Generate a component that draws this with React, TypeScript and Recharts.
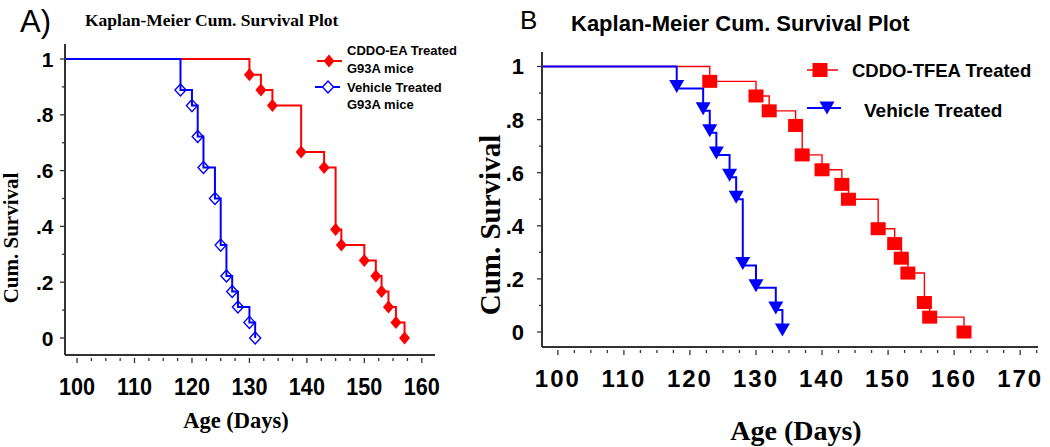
import { LineChart, Line, XAxis, YAxis } from "recharts";

// Panel A: CDDO-EA vs vehicle treated G93A mice (age in days, cum. survival)
const eaDays = [130, 132, 134, 139, 143, 145, 146, 150, 152, 153, 154.2, 155.5, 157];
const eaSurvival = [0.944, 0.889, 0.833, 0.667, 0.611, 0.389, 0.333, 0.278, 0.222, 0.167, 0.111, 0.056, 0];
const vehADays = [118, 120, 121, 122, 124, 125, 126, 127, 128, 130, 131];
const vehASurvival = [0.889, 0.833, 0.722, 0.611, 0.5, 0.333, 0.222, 0.167, 0.111, 0.056, 0];

// Panel B: CDDO-TFEA vs vehicle treated
const tfeaDays = [123, 130, 132, 136, 137, 140, 143, 144, 148.5, 151, 152, 153, 155.5, 156.3, 161.5];
const tfeaSurvival = [0.944, 0.889, 0.833, 0.778, 0.667, 0.611, 0.556, 0.5, 0.389, 0.333, 0.278, 0.222, 0.111, 0.056, 0];
const vehBDays = [118, 122, 123, 124, 126, 127, 128, 130, 133, 134];
const vehBSurvival = [0.917, 0.833, 0.75, 0.667, 0.583, 0.5, 0.25, 0.167, 0.083, 0];

// axis ticks
const xTicksA = [100, 102.5, 105, 107.5, 110, 112.5, 115, 117.5, 120, 122.5, 125, 127.5, 130, 132.5, 135, 137.5, 140, 142.5, 145, 147.5, 150, 152.5, 155, 157.5, 160];
const xTicksB = [...xTicksA, 162.5, 165, 167.5, 170, 172.5];
const xMajor = [100, 110, 120, 130, 140, 150, 160, 170];
const yTicks = [0, 0.1, 0.2, 0.3, 0.4, 0.5, 0.6, 0.7, 0.8, 0.9, 1];
const yMajor = [0, 0.2, 0.4, 0.6, 0.8, 1];
const yLabels = ["0", ".2", ".4", ".6", ".8", "1"];

const START_AGE = 0;
const RED = "#ff0000";
const BLUE = "#0000ff";
const AXIS = "#333333";
const SANS = "'Liberation Sans', Arial, sans-serif";
const SERIF = "'Liberation Serif', 'Times New Roman', serif";

function kmPoints(days: number[], surv: number[]) {
  return [{ age: START_AGE, s: 1, mark: false }, ...days.map((d, i) => ({ age: d, s: surv[i], mark: true }))];
}

const near = (a: number, b: number) => Math.abs(a - b) < 1e-6;

const diamond = (cx: number, cy: number, w: number, h: number) =>
  `${cx},${cy - h} ${cx + w},${cy} ${cx},${cy + h} ${cx - w},${cy}`;
const triangle = (cx: number, cy: number) =>
  `${cx - 7.5},${cy - 8.5} ${cx + 7.5},${cy - 8.5} ${cx},${cy + 4.5}`;

function redDiamond(p: any) {
  if (!p.payload || !p.payload.mark) return <g key={`rd${p.index}`} />;
  return <polygon key={`rd${p.index}`} points={diamond(p.cx, p.cy, 5.5, 6.5)} fill={RED} />;
}
function blueDiamond(p: any) {
  if (!p.payload || !p.payload.mark) return <g key={`bd${p.index}`} />;
  return <polygon key={`bd${p.index}`} points={diamond(p.cx, p.cy, 5.5, 6)} fill="none" stroke={BLUE} strokeWidth={1.4} />;
}
function redSquare(p: any) {
  if (!p.payload || !p.payload.mark) return <g key={`rs${p.index}`} />;
  return <rect key={`rs${p.index}`} x={p.cx - 7.5} y={p.cy - 6.5} width={15} height={13} fill={RED} />;
}
function blueTriangle(p: any) {
  if (!p.payload || !p.payload.mark) return <g key={`bt${p.index}`} />;
  return <polygon key={`bt${p.index}`} points={triangle(p.cx, p.cy)} fill={BLUE} />;
}

function YTick(props: any) {
  const { x, y, payload, gap, size, shift } = props;
  const idx = yMajor.findIndex((m) => near(m, payload.value));
  const major = idx >= 0;
  return (
    <g>
      <line x1={x - (major ? 5 : 3)} x2={x} y1={y} y2={y} stroke={AXIS} strokeWidth={1.3} />
      {major && (
        <text x={x - gap} y={y + shift} textAnchor="end" fontFamily={SANS} fontWeight="bold" fontSize={size} fill="#000">
          {yLabels[idx]}
        </text>
      )}
    </g>
  );
}

function XTick(props: any) {
  const { x, y, payload, size, sx, spacing } = props;
  const major = xMajor.some((m) => near(m, payload.value));
  return (
    <g>
      <line x1={x} x2={x} y1={y + 3} y2={y + (major ? 8 : 6)} stroke={AXIS} strokeWidth={1.3} />
      {major && (
        <text
          transform={`translate(${x},${y + 40}) scale(${sx},1)`}
          textAnchor="middle"
          fontFamily={SANS}
          fontWeight="bold"
          fontSize={size}
          letterSpacing={spacing}
          fill="#000"
        >
          {payload.value}
        </text>
      )}
    </g>
  );
}

export default function App() {
  return (
    <div style={{ position: "absolute", left: 0, top: 0, width: 1050, height: 447, background: "#fff" }}>
      <div style={{ position: "absolute", left: 0, top: 0 }}>
        <LineChart width={520} height={447} margin={{ top: 44, right: 85, bottom: 0, left: 0 }}>
          <XAxis
            dataKey="age"
            type="number"
            domain={[97.9, 162.3]}
            allowDataOverflow
            ticks={xTicksA}
            interval={0}
            height={92}
            tickSize={0}
            tickMargin={0}
            tickLine={false}
            axisLine={{ stroke: AXIS, strokeWidth: 2 }}
            tick={(p: any) => <XTick {...p} size={24} sx={0.9} spacing={0} />}
          />
          <YAxis
            type="number"
            domain={[-0.0609, 1.0538]}
            allowDataOverflow
            ticks={yTicks}
            interval={0}
            width={65}
            tickSize={0}
            tickMargin={0}
            tickLine={false}
            axisLine={{ stroke: AXIS, strokeWidth: 2 }}
            tick={(p: any) => <YTick {...p} gap={11.5} size={21} shift={7.5} />}
          />
          <Line data={kmPoints(eaDays, eaSurvival)} dataKey="s" type="stepAfter" stroke={RED} strokeWidth={2} dot={redDiamond} activeDot={false} isAnimationActive={false} />
          <Line data={kmPoints(vehADays, vehASurvival)} dataKey="s" type="stepAfter" stroke={BLUE} strokeWidth={2} dot={blueDiamond} activeDot={false} isAnimationActive={false} />
        </LineChart>
      </div>
      <div style={{ position: "absolute", left: 470, top: 0 }}>
        <LineChart width={580} height={447} margin={{ top: 52, right: 12, bottom: 0, left: 0 }}>
          <XAxis
            dataKey="age"
            type="number"
            domain={[97.6, 172.7]}
            allowDataOverflow
            ticks={xTicksB}
            interval={0}
            height={100}
            tickSize={0}
            tickMargin={0}
            tickLine={false}
            axisLine={{ stroke: AXIS, strokeWidth: 2 }}
            tick={(p: any) => <XTick {...p} size={24} sx={1} spacing={2} />}
          />
          <YAxis
            type="number"
            domain={[-0.0565, 1.0546]}
            allowDataOverflow
            ticks={yTicks}
            interval={0}
            width={72}
            tickSize={0}
            tickMargin={0}
            tickLine={false}
            axisLine={{ stroke: AXIS, strokeWidth: 2 }}
            tick={(p: any) => <YTick {...p} gap={18} size={22} shift={8} />}
          />
          <Line data={kmPoints(tfeaDays, tfeaSurvival)} dataKey="s" type="stepAfter" stroke={RED} strokeWidth={1.4} dot={redSquare} activeDot={false} isAnimationActive={false} />
          <Line data={kmPoints(vehBDays, vehBSurvival)} dataKey="s" type="stepAfter" stroke={BLUE} strokeWidth={2} dot={blueTriangle} activeDot={false} isAnimationActive={false} />
        </LineChart>
      </div>
      <svg width={1050} height={447} style={{ position: "absolute", left: 0, top: 0, pointerEvents: "none" }}>
        {/* panel A texts */}
        <text x={20} y={32} fontFamily={SANS} fontSize={31} fill="#000">A)</text>
        <text x={85} y={26} fontFamily={SERIF} fontWeight="bold" fontSize={17.5} fill="#000">Kaplan-Meier Cum. Survival Plot</text>
        <text transform="translate(18,238) rotate(-90)" textAnchor="middle" fontFamily={SERIF} fontWeight="bold" fontSize={21} fill="#000">Cum. Survival</text>
        <text x={236} y={428} textAnchor="middle" fontFamily={SERIF} fontWeight="bold" fontSize={22.5} fill="#000">Age (Days)</text>
        <line x1={317} x2={342} y1={61} y2={61} stroke={RED} strokeWidth={2} />
        <polygon points={diamond(329, 61, 5.5, 6.5)} fill={RED} />
        <text x={347} y={55} fontFamily={SANS} fontWeight="bold" fontSize={13} fill="#000">CDDO-EA Treated</text>
        <text x={347} y={73} fontFamily={SANS} fontWeight="bold" fontSize={13} fill="#000">G93A mice</text>
        <line x1={315} x2={340} y1={87} y2={87} stroke={BLUE} strokeWidth={2} />
        <polygon points={diamond(328, 87, 5.5, 6)} fill="#fff" stroke={BLUE} strokeWidth={1.4} />
        <text x={347} y={92} fontFamily={SANS} fontWeight="bold" fontSize={13} fill="#000">Vehicle Treated</text>
        <text x={347} y={109} fontFamily={SANS} fontWeight="bold" fontSize={13} fill="#000">G93A mice</text>
        {/* panel B texts */}
        <text x={520} y={29} fontFamily={SANS} fontSize={26} fill="#000">B</text>
        <text x={571} y={30.5} fontFamily={SANS} fontWeight="bold" fontSize={22} fill="#000">Kaplan-Meier Cum. Survival Plot</text>
        <text transform="translate(500,225) rotate(-90)" textAnchor="middle" fontFamily={SERIF} fontWeight="bold" fontSize={29} fill="#000">Cum. Survival</text>
        <text x={796} y={440} textAnchor="middle" fontFamily={SERIF} fontWeight="bold" fontSize={28} fill="#000">Age (Days)</text>
        <line x1={807} x2={838} y1={70} y2={70} stroke={RED} strokeWidth={1.5} />
        <rect x={812.5} y={63} width={15} height={14} fill={RED} />
        <text x={852} y={77} fontFamily={SANS} fontWeight="bold" fontSize={18.5} fill="#000">CDDO-TFEA Treated</text>
        <line x1={807} x2={841} y1={108} y2={108} stroke={BLUE} strokeWidth={2} />
        <polygon points={triangle(827, 110)} fill={BLUE} />
        <text x={864} y={117} fontFamily={SANS} fontWeight="bold" fontSize={19} fill="#000">Vehicle Treated</text>
      </svg>
    </div>
  );
}
